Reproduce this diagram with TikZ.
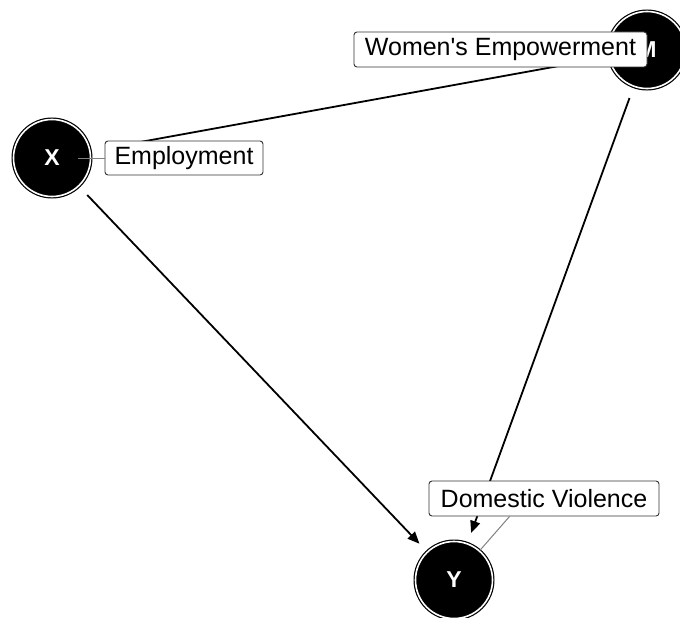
\documentclass[tikz,border=0pt]{standalone}
\usepackage{fontspec}
\setmainfont{Liberation Sans}
\usetikzlibrary{arrows.meta,calc}
\begin{document}
\begin{tikzpicture}[x=1pt,y=-1pt,
  var/.style={circle, fill=black, draw=black, line width=1.2pt, double=white, double distance=1.6pt,
    minimum size=77pt, inner sep=0pt, text=white, font=\fontsize{23}{25}\selectfont\bfseries},
  edge/.style={line width=1.8pt, -{Triangle[length=12pt,width=10pt]}, shorten >=11pt, shorten <=12pt},
  lab/.style={draw=black!80, fill=white, rounded corners=3pt, line width=0.9pt, inner sep=0pt,
    font=\fontsize{25}{28}\selectfont},
  lead/.style={draw=black!50, line width=1pt}]
\useasboundingbox (0,0) rectangle (680,618);
% variable nodes
\node[var] (X) at (52,158) {X};
\node[var] (M) at (647,50) {M};
\node[var] (Y) at (454,580) {Y};
% causal edges
\draw[edge, shorten <=30pt] (X) -- (M);
\draw[edge] (X) -- (Y);
\draw[edge] (M) -- (Y);
% labels
\node[lab, minimum width=158pt, minimum height=34pt] (lX) at (184,158) {Employment};
\node[lab, minimum width=230pt, minimum height=35pt] (lY) at (544,498.5) {Domestic Violence};
\node[lab, minimum width=293pt, minimum height=35pt] (lM) at (500.5,49.5) {Women\textquotesingle s Empowerment};
% leader lines
\draw[lead] ($(X)+(26,0)$) -- (lX.west);
\draw[lead] (Y) -- ($(lY.south west)+(81,0)$);
\end{tikzpicture}
\end{document}
